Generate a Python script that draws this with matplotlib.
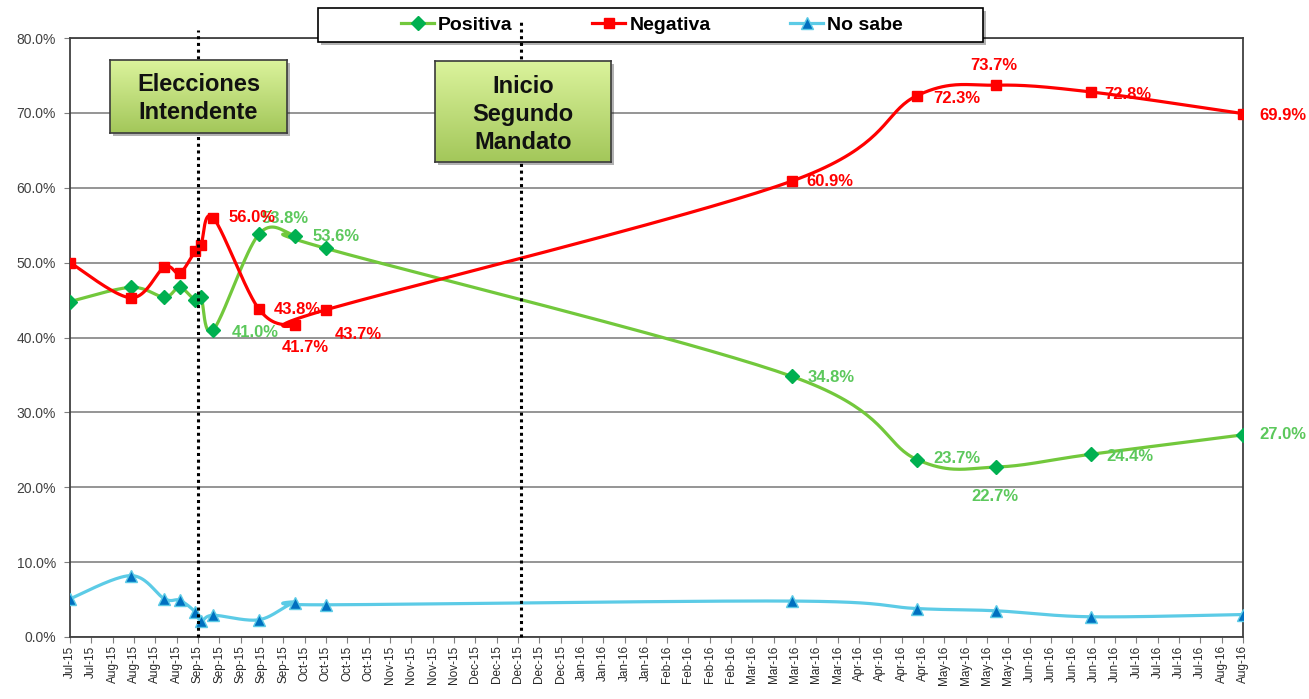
import numpy as np
import pandas as pd
import matplotlib
matplotlib.use('Agg')
import matplotlib.pyplot as plt
import matplotlib.dates as mdates
import matplotlib.colors as mcolors
from matplotlib.lines import Line2D
from matplotlib.patches import Rectangle
from matplotlib.ticker import FuncFormatter

plt.rcParams['font.family'] = ['Liberation Sans', 'DejaVu Sans']

# datos
fechas = ['2015-07-22', '2015-08-11', '2015-08-22', '2015-08-27', '2015-09-01',
          '2015-09-03', '2015-09-07', '2015-09-22', '2015-10-04', '2015-10-14',
          '2016-03-15', '2016-04-25', '2016-05-21', '2016-06-21', '2016-08-10']
positiva = [44.8, 46.7, 45.4, 46.7, 45.0, 45.4, 41.0, 53.8, 53.6, 51.9,
            34.8, 23.7, 22.7, 24.4, 27.0]
negativa = [50.0, 45.3, 49.4, 48.6, 51.5, 52.4, 56.0, 43.8, 41.7, 43.7,
            60.9, 72.3, 73.7, 72.8, 69.9]
no_sabe = [5.1, 8.2, 5.1, 4.9, 3.4, 2.1, 2.9, 2.3, 4.6, 4.3,
           4.8, 3.8, 3.5, 2.7, 3.0]
eventos = ['2015-09-02', '2015-12-17']
eventos_txt = ['Elecciones\nIntendente', 'Inicio\nSegundo\nMandato']

W, H = 1309, 699
fig = plt.figure(figsize=(W / 100, H / 100), dpi=100)
ax = fig.add_axes([70 / W, 62 / H, 1173 / W, 599 / H])

x = mdates.date2num(pd.to_datetime(fechas))
ax.set_xlim(x[0], x[-1])
ax.set_ylim(0, 80)

ticks = pd.date_range(fechas[0], fechas[-1], freq='7D')
ax.set_xticks(mdates.date2num(ticks))
ax.set_xticklabels([t.strftime('%b-%y') for t in ticks], rotation=90,
                   fontsize=8.5, color='#262626')
ax.set_yticks(range(0, 81, 10))
ax.yaxis.set_major_formatter(FuncFormatter(lambda v, p: f'{v:.1f}%'))
ax.tick_params(axis='y', labelsize=10, labelcolor='#404040', length=4,
               color='#7f7f7f', pad=6)
ax.tick_params(axis='x', length=4, color='#7f7f7f', pad=2)
ax.yaxis.grid(True, color='#8c8c8c', lw=1.3)
ax.set_axisbelow(True)
for s in ax.spines.values():
    s.set_color('#404040')
    s.set_linewidth(1.3)


def smooth(xd, yd, n=40):
    # curva suavizada tipo excel (bezier) en coordenadas de pantalla
    pts = ax.transData.transform(np.column_stack([xd, yd]))
    out = [pts[0]]
    t = np.linspace(0, 1, n)[1:, None]
    for i in range(len(pts) - 1):
        p0 = pts[i - 1] if i > 0 else pts[i]
        p1, p2 = pts[i], pts[i + 1]
        p3 = pts[i + 2] if i + 2 < len(pts) else pts[i + 1]
        c1 = p1 + (p2 - p0) / 6
        c2 = p2 - (p3 - p1) / 6
        seg = (1 - t) ** 3 * p1 + 3 * (1 - t) ** 2 * t * c1 + 3 * (1 - t) * t ** 2 * c2 + t ** 3 * p2
        out.extend(seg)
    res = ax.transData.inverted().transform(np.array(out))
    return res[:, 0], res[:, 1]


series = [
    ('Positiva', positiva, '#72c83c', 'D', '#00b050', '#00b050', 7),
    ('Negativa', negativa, '#ff0000', 's', '#ff0000', '#ff0000', 7),
    ('No sabe', no_sabe, '#5ccbe6', '^', '#0070c0', '#5ccbe6', 8),
]
handles = []
z = 3
for nombre, vals, lc, mk, mfc, mec, ms in series:
    sx, sy = smooth(x, vals)
    ax.plot(sx, sy, color=lc, lw=2.3, zorder=z, solid_capstyle='round')
    ax.plot(x, vals, ls='none', marker=mk, mfc=mfc, mec=mec, ms=ms, mew=1,
            zorder=z + 0.1)
    handles.append(Line2D([], [], color=lc, lw=2.3, marker=mk, mfc=mfc,
                          mec=mec, ms=ms, label=nombre))
    z += 0.2

# etiquetas de datos (desplazamiento en puntos)
pos_lab = {6: (13, -1.5, 'left'), 7: (2, 11.5, 'left'), 8: (12, -0.7, 'left'),
           10: (11.5, -0.7, 'left'), 11: (12, 0.7, 'left'), 12: (-0.7, -21, 'center'),
           13: (11, -1.5, 'left'), 14: (12, 0, 'left')}
neg_lab = {6: (11, 0, 'left'), 7: (11, 0, 'left'), 8: (7, -16.5, 'center'),
           9: (6.5, -18, 'left'), 10: (10, -0.7, 'left'), 11: (11.5, -2, 'left'),
           12: (-1.5, 14.4, 'center'), 13: (10, -2, 'left'), 14: (12, -1.5, 'left')}
for vals, labs, col in [(positiva, pos_lab, '#5cc85c'), (negativa, neg_lab, '#ff0000')]:
    for i, (dx, dy, ha) in labs.items():
        ax.annotate(f'{vals[i]:.1f}%', (x[i], vals[i]), xytext=(dx, dy),
                    textcoords='offset points', ha=ha, va='center', color=col,
                    fontsize=12, fontweight='bold', zorder=4.5,
                    annotation_clip=False)

# leyenda con marco propio
lx0, ly0, lx1, ly1 = 318, 8, 983, 42
ax.add_patch(Rectangle(((lx0 + 3) / W, 1 - (ly1 + 3) / H), (lx1 - lx0) / W,
                       (ly1 - ly0) / H, transform=fig.transFigure, fc='#000000',
                       alpha=0.3, lw=0, clip_on=False, zorder=4.9))
ax.add_patch(Rectangle((lx0 / W, 1 - ly1 / H), (lx1 - lx0) / W, (ly1 - ly0) / H,
                       transform=fig.transFigure, fc='white', ec='black', lw=1.2,
                       clip_on=False, zorder=5))
leg = ax.legend(handles=handles, loc='center', ncol=3, frameon=False,
                bbox_to_anchor=(652 / W, 1 - 25 / H), bbox_transform=fig.transFigure,
                prop={'weight': 'bold', 'size': 14}, handlelength=1.7,
                handletextpad=0.2, columnspacing=4.1)
leg.set_zorder(6)

# lineas verticales de eventos
tops = [1.013, 1.03]
for d, top in zip(eventos, tops):
    ax.axvline(mdates.date2num(pd.Timestamp(d)), ymin=0, ymax=top, color='black',
               lw=2.2, dashes=(1, 1.2), clip_on=False, zorder=7)

# cajas de texto
cajas = [(110, 60, 287, 133), (435, 61, 611, 162)]
c_top = np.array(mcolors.to_rgb('#dbf39c'))
c_bot = np.array(mcolors.to_rgb('#a3c75a'))
g = np.linspace(0, 1, 100)[:, None, None]
grad = c_top * (1 - g) + c_bot * g
for (x0, y0, x1, y1), txt in zip(cajas, eventos_txt):
    ax.add_patch(Rectangle(((x0 + 3) / W, 1 - (y1 + 3) / H), (x1 - x0) / W,
                           (y1 - y0) / H, transform=fig.transFigure, fc='#000000',
                           alpha=0.3, lw=0, clip_on=False, zorder=8))
    bax = fig.add_axes([x0 / W, 1 - y1 / H, (x1 - x0) / W, (y1 - y0) / H], zorder=2)
    bax.imshow(grad, aspect='auto', extent=[0, 1, 0, 1])
    bax.set_xticks([])
    bax.set_yticks([])
    for s in bax.spines.values():
        s.set_color('#3a3a3a')
        s.set_linewidth(1.2)
    bax.text(0.5, 0.47, txt, ha='center', va='center', fontsize=17,
             fontweight='bold', color='#111111', linespacing=1.27,
             transform=bax.transAxes)

fig.savefig('out.png', dpi=100)
